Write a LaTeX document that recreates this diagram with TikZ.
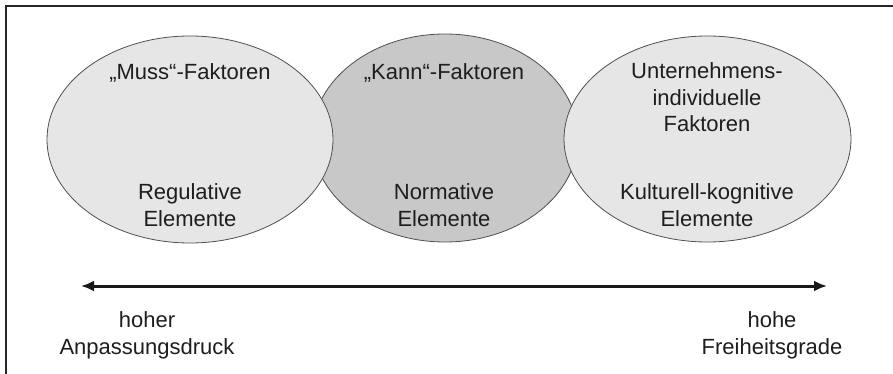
\documentclass[tikz,border=0pt]{standalone}
\usepackage{fontspec}
\setmainfont{Liberation Sans}
\usetikzlibrary{arrows.meta}
\definecolor{fillLight}{HTML}{E6E6E6}
\definecolor{fillDark}{HTML}{C8C8C8}
\definecolor{rimGray}{HTML}{505050}
\definecolor{inkGray}{HTML}{1E1E1E}
\begin{document}
\begin{tikzpicture}[x=1pt,y=-1pt,
  blob/.style={draw=rimGray,line width=0.8pt},
  label/.style={font=\fontsize{22}{26.5}\selectfont,text=inkGray,align=center,anchor=base,inner sep=0pt}]
\useasboundingbox (0,0) rectangle (893,374);
\fill[white] (0,0) rectangle (893,374);
% open frame (left and top edges)
\draw[line width=2pt,black!85] (6,374) -- (6,6) -- (893,6);
% three overlapping ellipses; the middle one lies beneath
\draw[blob,fill=fillDark] (445,138) ellipse [x radius=133,y radius=104];
\draw[blob,fill=fillLight] (190,139.5) ellipse [x radius=143,y radius=103.5];
\draw[blob,fill=fillLight] (707.5,139) ellipse [x radius=143.5,y radius=103];
\node (mussE) at (190,139.5) {};
\node (kannE) at (445,138) {};
\node (freiE) at (707.5,139) {};
% texts in the ellipses (base anchor = baseline of the last line)
\node[label] (muss) at (190,80) {„Muss“-Faktoren};
\node[label] (regul) at (190,226) {Regulative\\Elemente};
\node[label] (kann) at (444,80) {„Kann“-Faktoren};
\node[label] (norm) at (444,226) {Normative\\Elemente};
\node[label] (unt) at (707,132) {Unternehmens-\\individuelle\\Faktoren};
\node[label] (kult) at (707,226) {Kulturell-kognitive\\Elemente};
% double-headed scale arrow
\coordinate (pL) at (81,286);
\coordinate (pR) at (827,286);
\draw[line width=3pt,black!90,{Latex[length=13pt,width=11pt]}-{Latex[length=13pt,width=11pt]}] (pL) -- (pR);
\node[label] (druck) at (147,354) {hoher\\Anpassungsdruck};
\node[label] (frei) at (772,354) {hohe\\Freiheitsgrade};
\end{tikzpicture}
\end{document}
